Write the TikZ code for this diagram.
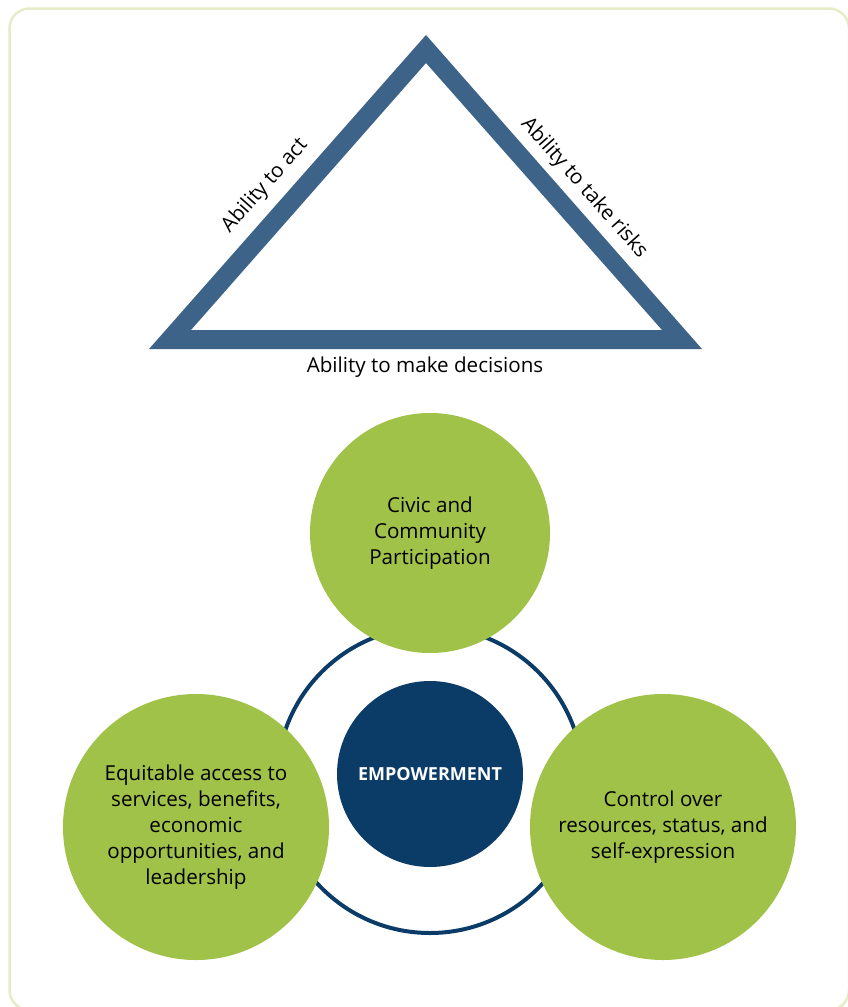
\documentclass[tikz,border=0pt]{standalone}
\usepackage{fontspec}
\setmainfont{Open Sans}
\definecolor{triblue}{RGB}{61,99,137}
\definecolor{leaf}{RGB}{160,194,72}
\definecolor{navy}{RGB}{11,60,104}
\definecolor{framegreen}{RGB}{228,237,200}
\begin{document}
\begin{tikzpicture}[x=1pt,y=-1pt,
  lbl/.style={font=\fontsize{20.6}{24}\selectfont, text=black, inner sep=0pt},
  leafcircle/.style={circle, fill=leaf, draw=none, minimum size=#1, inner sep=0pt, align=center,
     font=\fontsize{20.6}{26}\selectfont, text=black},
  hub/.style={circle, fill=navy, draw=none, minimum size=186pt, inner sep=0pt,
     font=\fontsize{18}{20}\selectfont\bfseries, text=white},
  ring/.style={circle, draw=navy, line width=4pt, minimum size=306pt, inner sep=0pt}]
\useasboundingbox (0,0) rectangle (848,1007);
\begin{scope}
\clip (0,0) rectangle (848,1007);
\draw[framegreen, line width=2.5pt, rounded corners=20pt] (9.5,8.5) rectangle (849,1010);
\end{scope}
% triangle
\fill[triblue, even odd rule] (149,349) -- (426,35) -- (702,349) -- cycle
  (191,330) -- (426,63) -- (662,330) -- cycle;
\node[lbl, rotate=48.5] (act) at (265,186) {Ability to act};
\node[lbl, rotate=-48.5] (risk) at (584,188) {Ability to take risks};
\node[lbl] (dec) at (425,367) {Ability to make decisions};
% circles
\node[ring] (ring) at (430,780) {};
\node[leafcircle=240pt] (civic) at (430,533) {Civic and\\Community\\Participation};
\node[leafcircle=266pt] (equit) at (196,827) {Equitable access to\\services, benefits,\\economic\\opportunities, and\\leadership};
\node[leafcircle=266pt] (ctrl) at (663,827) {Control over\\resources, status, and\\self-expression};
\node[hub] (emp) at (430,774) {EMPOWERMENT};
\end{tikzpicture}
\end{document}
